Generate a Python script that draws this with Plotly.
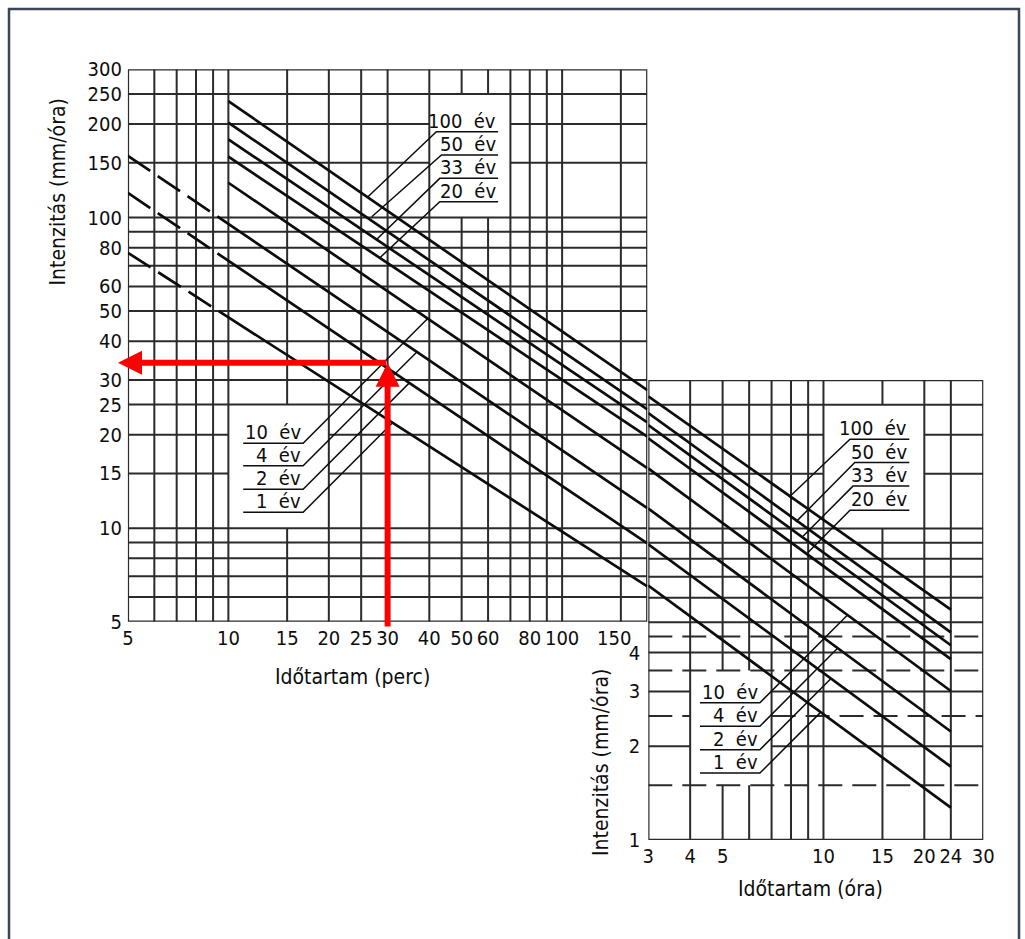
import numpy as np
import plotly.graph_objects as go

W, H = 1025, 939

# ---------------- data ----------------
return_periods = ["100", "50", "33", "20", "10", "4", "2", "1"]
# upper panel: duration in minutes
upper_start_min = [10, 10, 10, 10, 10, 5, 5, 5]
upper_start_int = [237, 202, 178.5, 157, 129.4, 158, 120, 77]
upper_end_min = [180, 180, 180, 180, 180, 180, 180, 180]
upper_end_int = [27.8, 24.1, 21.9, 19.7, 15.6, 11.6, 8.93, 6.5]
dashed_start = [False, False, False, False, False, True, True, True]
# lower panel: duration in hours
lower_start_h = [3, 3, 3, 3, 3, 3, 3, 3]
lower_start_int = [26.6, 23.5, 21.5, 19.5, 15.6, 11.6, 8.9, 6.56]
lower_end_h = [24, 24, 24, 24, 24, 24, 24, 24]
lower_end_int = [5.49, 4.64, 4.22, 3.81, 3.01, 2.23, 1.72, 1.27]

# grid values
upper_grid_x = [6, 7, 8, 9, 10, 15, 20, 25, 30, 40, 50, 60, 70, 80, 90, 100, 150]
upper_grid_y = [6, 7, 8, 9, 10, 15, 20, 25, 30, 40, 50, 60, 70, 80, 90, 100, 150, 200, 250]
lower_grid_x = [4, 5, 6, 7, 8, 9, 10, 15, 20, 24]
lower_grid_y = [2, 3, 4, 5, 6, 7, 8, 9, 10, 15, 20, 25]
lower_grid_y_dashed = [1.5, 2.5, 3.5, 4.5]

# tick labels
upper_xticks = [5, 10, 15, 20, 25, 30, 40, 50, 60, 80, 100]
upper_xtick_last = 150
upper_yticks = [5, 10, 15, 20, 25, 30, 40, 50, 60, 80, 100, 150, 200, 250, 300]
lower_xticks = [3, 4, 5, 10, 15, 20, 24, 30]
lower_yticks = [1, 2, 3, 4]

# label groups: underline y, underline x-range, leader end point
up_top_text = ["100", "50", "33", "20"]
up_top_uy = [188.8, 158.9, 133.7, 112.4]
up_top_x0 = [42.0, 43.5, 43.0, 43.0]
up_top_x1 = [64.3, 64.3, 64.3, 64.3]
up_top_end_t = [26.2, 26.9, 27.8, 28.4]
up_top_end_i = [116.6, 100.6, 85.0, 74.1]

up_low_text = ["10", "4", "2", "1"]
up_low_uy = [18.76, 15.87, 13.34, 11.25]
up_low_x0 = [11.08, 11.08, 11.08, 11.08]
up_low_x1 = [16.75, 16.75, 16.75, 16.75]
up_low_end_t = [39.5, 36.7, 34.8, 31.0]
up_low_end_i = [47.2, 36.9, 29.3, 21.8]

lo_top_text = ["100", "50", "33", "20"]
lo_top_uy = [19.37, 16.29, 13.69, 11.46]
lo_top_x0 = [12.0, 12.4, 12.25, 12.0]
lo_top_x1 = [18.04, 18.04, 18.04, 18.04]
lo_top_end_t = [7.89, 8.28, 8.69, 8.99]
lo_top_end_i = [12.6, 10.51, 9.45, 8.38]

lo_low_text = ["10", "4", "2", "1"]
lo_low_uy = [2.76, 2.32, 1.95, 1.64]
lo_low_x0 = [4.28, 4.28, 4.28, 4.28]
lo_low_x1 = [6.46, 6.46, 6.46, 6.46]
lo_low_end_t = [11.76, 11.0, 10.5, 9.77]
lo_low_end_i = [5.26, 4.12, 3.29, 2.56]

# example reading (red arrows)
arrow_duration_min = 30
arrow_intensity = 34.1
arrow_tip_min = 4.67
arrow_tail_int = 4.77

# ---------------- layout geometry ----------------
UX = (127.9, 647.3); UY = (69.3, 621.7)
LX = (648.3, 983.3); LY = (380.0, 840.0)
def dx(p): return [p[0] / W, p[1] / W]
def dy(p): return [1 - p[1] / H, 1 - p[0] / H]

FONT = "Liberation Sans Narrow, DejaVu Sans Condensed, Liberation Sans, sans-serif"
INK = "#0d0d0d"
GRID = "#2b2b2b"

fig = go.Figure()

# IDF curves
for i, rp in enumerate(return_periods):
    line = dict(color=INK, width=2.7)
    if dashed_start[i]:
        line["dash"] = "27px,9px,27px,9px,27px,9px,3000px"
    fig.add_trace(go.Scatter(x=[upper_start_min[i], upper_end_min[i]],
                             y=[upper_start_int[i], upper_end_int[i]],
                             mode="lines", line=line, xaxis="x", yaxis="y",
                             showlegend=False, hoverinfo="skip"))
    fig.add_trace(go.Scatter(x=[lower_start_h[i], lower_end_h[i]],
                             y=[lower_start_int[i], lower_end_int[i]],
                             mode="lines", line=dict(color=INK, width=2.7),
                             xaxis="x2", yaxis="y2", showlegend=False, hoverinfo="skip"))

shapes = []
annotations = []

def seg_minus(a, b, gaps):
    segs = [(a, b)]
    for g0, g1 in gaps:
        new = []
        for s0, s1 in segs:
            if g1 <= s0 or g0 >= s1:
                new.append((s0, s1))
            else:
                if s0 < g0: new.append((s0, g0))
                if g1 < s1: new.append((g1, s1))
        segs = new
    return segs

def grid(xref, yref, xs, ys, xr, yr, boxes, ys_dashed=()):
    for x in xs:
        gaps = [(b[2], b[3]) for b in boxes if b[0] < x < b[1]]
        for s0, s1 in seg_minus(yr[0], yr[1], gaps):
            shapes.append(dict(type="line", xref=xref, yref=yref, x0=x, x1=x, y0=s0, y1=s1,
                               line=dict(color=GRID, width=2), layer="below"))
    for y in list(ys) + list(ys_dashed):
        gaps = [(b[0], b[1]) for b in boxes if b[2] < y < b[3]]
        ln = dict(color=GRID, width=2)
        if y in ys_dashed:
            ln["dash"] = "24px,10px"
        for s0, s1 in seg_minus(xr[0], xr[1], gaps):
            shapes.append(dict(type="line", xref=xref, yref=yref, x0=s0, x1=s1, y0=y, y1=y,
                               line=ln, layer="below"))
    shapes.append(dict(type="rect", xref=xref, yref=yref, x0=xr[0], x1=xr[1], y0=yr[0], y1=yr[1],
                       line=dict(color=GRID, width=2.4), layer="below"))

upper_boxes = [(40, 70, 100, 250), (10, 20, 10, 25)]
lower_boxes = [(10, 20, 10, 25), (4, 7, 1.5, 3.5)]
grid("x", "y", upper_grid_x, upper_grid_y, (5, 180), (5, 300), upper_boxes)
grid("x2", "y2", lower_grid_x, lower_grid_y, (3, 30), (1, 30), lower_boxes,
     ys_dashed=lower_grid_y_dashed)

lg = np.log10
LBL = dict(family=FONT, size=20, color=INK)

def label_group(xa, ya, texts, uy, x0, x1, et, ei, leader_from_left):
    for k in range(len(texts)):
        xs = [x1[k], x0[k], et[k]] if leader_from_left else [x0[k], x1[k], et[k]]
        ys = [uy[k], uy[k], ei[k]]
        fig.add_trace(go.Scatter(x=xs, y=ys, mode="lines", line=dict(color=INK, width=1.5),
                                 xaxis=xa, yaxis=ya, showlegend=False, hoverinfo="skip"))
        annotations.append(dict(x=lg(x1[k]), y=lg(uy[k]), xref=xa, yref=ya, xanchor="right",
                                yanchor="bottom", yshift=-3, showarrow=False,
                                text=texts[k] + "\u00a0\u00a0év", font=LBL))

label_group("x", "y", up_top_text, up_top_uy, up_top_x0, up_top_x1, up_top_end_t, up_top_end_i, True)
label_group("x", "y", up_low_text, up_low_uy, up_low_x0, up_low_x1, up_low_end_t, up_low_end_i, False)
label_group("x2", "y2", lo_top_text, lo_top_uy, lo_top_x0, lo_top_x1, lo_top_end_t, lo_top_end_i, True)
label_group("x2", "y2", lo_low_text, lo_low_uy, lo_low_x0, lo_low_x1, lo_low_end_t, lo_low_end_i, False)

# axis titles
TTL = dict(family=FONT, size=21, color=INK)
def title(x, y, text, angle=0):
    return dict(x=x / W, y=1 - y / H, xref="paper", yref="paper", text=text, textangle=angle,
                xanchor="center", yanchor="middle", showarrow=False, font=TTL)
annotations += [
    title(57.5, 192, "Intenzitás (mm/óra)", -90),
    title(352, 677, "Időtartam (perc)"),
    title(601, 763, "Intenzitás (mm/óra)", -90),
    title(810, 889, "Időtartam (óra)"),
]

TICK = dict(family=FONT, size=20, color=INK)
# last upper x tick label sits just left of its gridline (it meets the lower panel's labels)
annotations.append(dict(x=lg(upper_xtick_last), y=lg(5), xref="x", yref="y", xanchor="right",
                        yanchor="top", xshift=12, yshift=-2, showarrow=False,
                        text=str(upper_xtick_last), font=TICK))

# red arrows
annotations += [
    dict(x=lg(arrow_tip_min), y=lg(arrow_intensity), ax=lg(arrow_duration_min), ay=lg(arrow_intensity),
         xref="x", yref="y", axref="x", ayref="y", showarrow=True, arrowhead=2, arrowsize=0.8,
         arrowwidth=6, arrowcolor="#ff0000", text=""),
    dict(x=lg(arrow_duration_min), y=lg(arrow_intensity), ax=lg(arrow_duration_min), ay=lg(arrow_tail_int),
         xref="x", yref="y", axref="x", ayref="y", showarrow=True, arrowhead=2, arrowsize=0.8,
         arrowwidth=6, arrowcolor="#ff0000", text=""),
]

# outer frame
shapes.append(dict(type="rect", xref="paper", yref="paper", x0=9 / W, x1=1019 / W,
                   y0=-0.02, y1=1 - 9 / H, line=dict(color="#3a4659", width=2.5), layer="above"))

ax_common = dict(type="log", showgrid=False, zeroline=False, showline=False, ticks="",
                 tickfont=TICK, automargin=False, fixedrange=True)

fig.update_layout(
    width=W, height=H, margin=dict(l=0, r=0, t=0, b=0),
    paper_bgcolor="white", plot_bgcolor="rgba(0,0,0,0)", showlegend=False,
    xaxis=dict(domain=dx(UX), range=[lg(5), lg(180)], anchor="y",
               tickvals=upper_xticks, ticktext=[str(v) for v in upper_xticks],
               ticklabelstandoff=2, **ax_common),
    yaxis=dict(domain=dy(UY), range=[lg(5), lg(300)], anchor="x",
               tickvals=upper_yticks, ticktext=[str(v) for v in upper_yticks],
               ticklabelstandoff=5, **ax_common),
    xaxis2=dict(domain=dx(LX), range=[lg(3), lg(30)], anchor="y2",
                tickvals=lower_xticks, ticktext=[str(v) for v in lower_xticks],
                ticklabelstandoff=2, **ax_common),
    yaxis2=dict(domain=dy(LY), range=[0, lg(30)], anchor="x2",
                tickvals=lower_yticks, ticktext=[str(v) for v in lower_yticks],
                ticklabelstandoff=7, **ax_common),
    shapes=shapes, annotations=annotations,
)

fig.write_html("out.html", config={"displayModeBar": False},
               post_script="document.body.style.margin='0px';document.body.style.overflow='hidden';")
